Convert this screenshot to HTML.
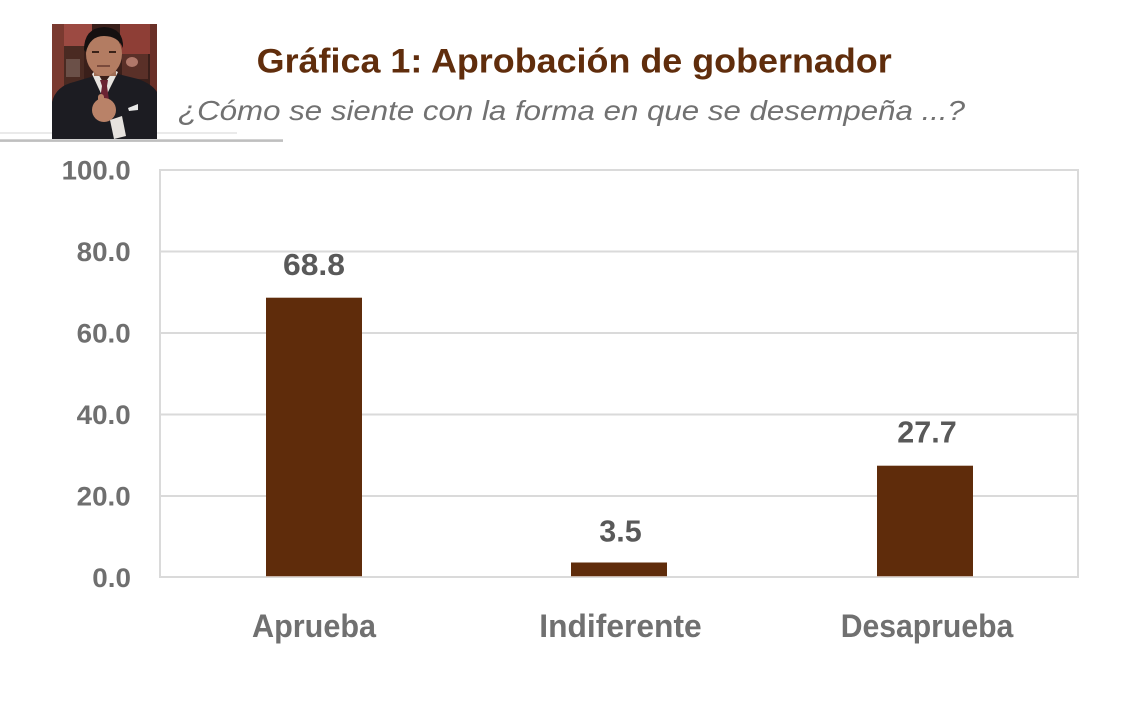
<!DOCTYPE html>
<html>
<head>
<meta charset="utf-8">
<style>
  html, body { margin: 0; padding: 0; background: #ffffff; }
  body { width: 1143px; height: 715px; overflow: hidden; }
  svg { display: block; }
  text { font-family: "Liberation Sans", "DejaVu Sans", sans-serif; }
</style>
</head>
<body>
<svg width="1143" height="715" viewBox="0 0 1143 715" xmlns="http://www.w3.org/2000/svg">
  <rect x="0" y="0" width="1143" height="715" fill="#ffffff"/>

  <!-- header lines -->
  <rect x="0" y="132.5" width="237" height="1" fill="#d4d4d4"/>
  <rect x="0" y="139.3" width="283" height="2.6" fill="#bfbfbf"/>

  <!-- photo -->
  <g transform="translate(52,24)">
    <svg x="0" y="0" width="105" height="115" viewBox="0 0 105 115">
      <rect x="0" y="0" width="105" height="115" fill="#3a1f1a"/>
      <rect x="0" y="0" width="12" height="115" fill="#7a3a30"/>
      <rect x="12" y="0" width="28" height="22" fill="#9c4a42"/>
      <rect x="12" y="22" width="20" height="50" fill="#4a2a22"/>
      <rect x="14" y="35" width="14" height="18" fill="#6b5048"/>
      <rect x="68" y="0" width="32" height="30" fill="#8e3e36"/>
      <rect x="98" y="0" width="7" height="115" fill="#6a3028"/>
      <rect x="70" y="30" width="26" height="25" fill="#5a3028"/>
      <ellipse cx="80" cy="38" rx="6" ry="5" fill="#b0786a"/>
      <!-- suit -->
      <path d="M0 78 Q4 62 22 58 L42 52 L52 70 L66 50 L86 55 Q100 60 105 68 L105 115 L0 115 Z" fill="#1c1c22"/>
      <!-- shirt -->
      <path d="M40 50 L52 76 L66 48 L62 46 L52 60 L44 46 Z" fill="#e8e4e0"/>
      <!-- tie -->
      <path d="M48 56 L56 56 L55 62 L57 76 L52 80 L48 75 L50 62 Z" fill="#6a2232"/>
      <!-- neck -->
      <rect x="42" y="42" width="22" height="10" fill="#a06e56"/>
      <!-- face -->
      <ellipse cx="52" cy="30" rx="18" ry="22" fill="#b37c62"/>
      <!-- hair -->
      <path d="M32 26 Q32 4 52 3 Q72 4 71 24 Q66 12 52 12 Q38 12 34 28 Z" fill="#151010"/>
      <!-- eyes / mouth -->
      <rect x="40" y="27" width="7" height="2" fill="#3a2218"/>
      <rect x="57" y="27" width="7" height="2" fill="#3a2218"/>
      <rect x="45" y="41" width="13" height="2" fill="#7a4a3c"/>
      <!-- hand -->
      <ellipse cx="52" cy="86" rx="12" ry="12" fill="#b98268"/>
      <rect x="46" y="70" width="6" height="12" rx="3" fill="#b98268"/>
      <!-- cuff -->
      <path d="M58 96 L70 92 L74 112 L62 115 Z" fill="#e6e2de"/>
      <!-- pocket square -->
      <path d="M76 84 L86 80 L86 86 L77 87 Z" fill="#e8e8e8"/>
    </svg>
  </g>

  <!-- title -->
  <text x="256.7" y="72.7" font-size="34.5" font-weight="bold" fill="#602D0C" textLength="635" lengthAdjust="spacingAndGlyphs">Gráfica 1: Aprobación de gobernador</text>
  <!-- subtitle -->
  <text x="178" y="120" font-size="28" font-style="italic" fill="#717171" textLength="787" lengthAdjust="spacingAndGlyphs">¿Cómo se siente con la forma en que se desempeña ...?</text>

  <!-- gridlines -->
  <g fill="#dadada">
    <rect x="160" y="169" width="919" height="2"/>
    <rect x="160" y="250.5" width="919" height="2"/>
    <rect x="160" y="332" width="919" height="2"/>
    <rect x="160" y="413.5" width="919" height="2"/>
    <rect x="160" y="495" width="919" height="2"/>
    <rect x="160" y="576" width="919" height="2"/>
    <rect x="159" y="169" width="2" height="409"/>
    <rect x="1077" y="169" width="2" height="409"/>
  </g>

  <!-- axis labels -->
  <g font-size="26.5" font-weight="bold" fill="#6f6f6f">
    <text x="61.7" y="179.5" textLength="69" lengthAdjust="spacingAndGlyphs">100.0</text>
    <text x="76.7" y="261" textLength="54" lengthAdjust="spacingAndGlyphs">80.0</text>
    <text x="76.7" y="342.5" textLength="54" lengthAdjust="spacingAndGlyphs">60.0</text>
    <text x="76.7" y="424" textLength="54" lengthAdjust="spacingAndGlyphs">40.0</text>
    <text x="76.7" y="505.5" textLength="54" lengthAdjust="spacingAndGlyphs">20.0</text>
    <text x="92.3" y="587" textLength="38.7" lengthAdjust="spacingAndGlyphs">0.0</text>
  </g>

  <!-- bars -->
  <g fill="#5F2C0B">
    <rect x="266" y="297.7" width="96" height="278.8"/>
    <rect x="571" y="562.5" width="96" height="14"/>
    <rect x="877" y="465.7" width="96" height="110.8"/>
  </g>
  <g fill="#c8b4a8">
    <rect x="266" y="576" width="96" height="1"/>
    <rect x="571" y="576" width="96" height="1"/>
    <rect x="877" y="576" width="96" height="1"/>
  </g>

  <!-- value labels -->
  <g font-size="30.5" font-weight="bold" fill="#595959">
    <text x="283" y="275" textLength="62" lengthAdjust="spacingAndGlyphs">68.8</text>
    <text x="599.3" y="541.7" textLength="42.4" lengthAdjust="spacingAndGlyphs">3.5</text>
    <text x="897.3" y="442.7" textLength="59.4" lengthAdjust="spacingAndGlyphs">27.7</text>
  </g>

  <!-- category labels -->
  <g font-size="32" font-weight="bold" fill="#707070">
    <text x="252" y="637" textLength="124" lengthAdjust="spacingAndGlyphs">Aprueba</text>
    <text x="539.3" y="637" textLength="162.4" lengthAdjust="spacingAndGlyphs">Indiferente</text>
    <text x="840.7" y="637" textLength="172.6" lengthAdjust="spacingAndGlyphs">Desaprueba</text>
  </g>
</svg>
</body>
</html>
